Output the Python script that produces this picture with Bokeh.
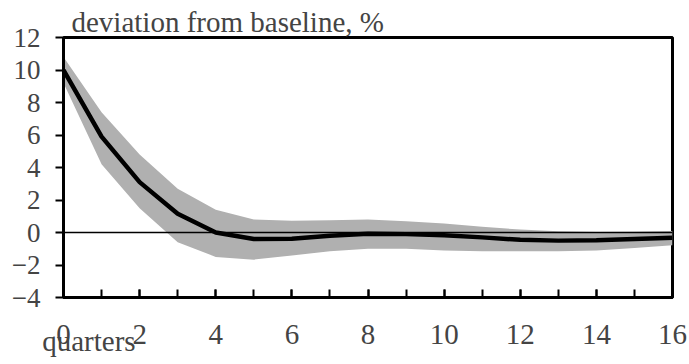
from bokeh.plotting import figure
from bokeh.models import Range1d, SingleIntervalTicker, Span, Title
from bokeh.embed import file_html
from bokeh.resources import INLINE

quarters = list(range(0, 17))
central = [10.0, 5.9, 3.1, 1.15, 0.0, -0.4, -0.38, -0.2, -0.08, -0.1, -0.17, -0.3, -0.45, -0.5, -0.48, -0.4, -0.32]
upper = [10.8, 7.4, 4.8, 2.7, 1.4, 0.8, 0.72, 0.75, 0.8, 0.7, 0.55, 0.35, 0.18, 0.08, 0.03, 0.05, 0.09]
lower = [9.2, 4.2, 1.5, -0.6, -1.5, -1.67, -1.42, -1.15, -1.0, -1.0, -1.1, -1.15, -1.16, -1.16, -1.1, -0.95, -0.79]
y_ticks = [-4, -2, 0, 2, 4, 6, 8, 10, 12]
x_ticks = [0, 2, 4, 6, 8, 10, 12, 14, 16]
title_text = "deviation from baseline, %"
xlabel_text = "quarters"

FONT = "Liberation Serif"

p = figure(width=689, height=364, output_backend="svg", toolbar_location=None,
           x_range=Range1d(x_ticks[0], x_ticks[-1]), y_range=Range1d(y_ticks[0], y_ticks[-1]))
p.min_border_left = 63
p.min_border_right = 17
p.min_border_top = 37
p.min_border_bottom = 67
p.grid.visible = False
p.outline_line_color = "black"
p.outline_line_width = 3

p.varea(x=quarters, y1=lower, y2=upper, fill_color="#b0b0b0")
p.add_layout(Span(location=0, dimension="width", line_color="black", line_width=1.5))
p.line(quarters, central, line_color="black", line_width=4.5)

xa = p.xaxis[0]
xa.ticker = SingleIntervalTicker(interval=x_ticks[1] - x_ticks[0], num_minor_ticks=2)
xa.axis_line_width = 3
xa.axis_line_color = "black"
xa.major_tick_in = 8
xa.major_tick_out = 0
xa.minor_tick_in = 8
xa.minor_tick_out = 0
xa.major_tick_line_width = 2
xa.minor_tick_line_width = 2
xa.major_tick_line_color = "black"
xa.minor_tick_line_color = "black"
xa.major_label_text_font = FONT
xa.major_label_text_font_size = "29px"
xa.major_label_standoff = 27

xa.axis_label = "\u00a0" * 7 + xlabel_text
xa.axis_label_align = "start"
xa.axis_label_text_font = FONT
xa.axis_label_text_font_size = "29px"
xa.axis_label_text_font_style = "normal"
xa.axis_label_standoff = -22

ya = p.yaxis[0]
ya.ticker = SingleIntervalTicker(interval=y_ticks[1] - y_ticks[0], num_minor_ticks=0)
ya.axis_line_width = 3
ya.axis_line_color = "black"
ya.major_tick_in = 0
ya.major_tick_out = 8
ya.minor_tick_in = 0
ya.minor_tick_out = 0
ya.major_tick_line_width = 2
ya.major_tick_line_color = "black"
ya.major_label_text_font = FONT
ya.major_label_text_font_size = "27px"
ya.major_label_standoff = 15

p.add_layout(Title(text=title_text, text_font=FONT, text_font_size="29px",
                   text_font_style="normal", align="left",
                   offset=8, standoff=0), "above")

open("out.html", "w").write(file_html(p, INLINE))
